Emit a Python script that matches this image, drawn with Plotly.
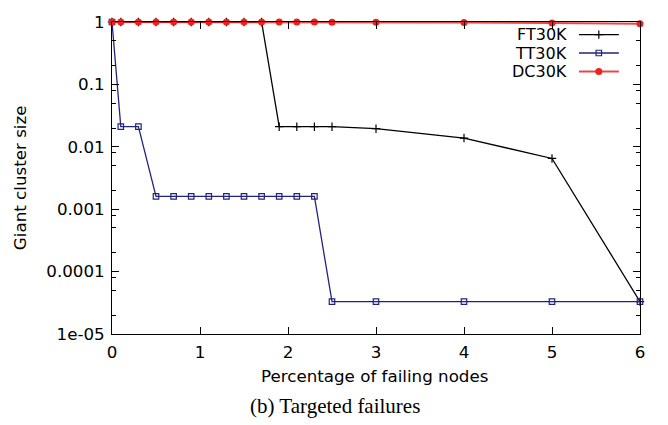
import plotly.graph_objects as go

# Percentage of failing nodes (targeted removal)
x_ft = [0, 0.1, 0.3, 0.5, 0.7, 0.9, 1.1, 1.3, 1.5, 1.7, 1.9, 2.1, 2.3, 2.5, 3, 4, 5, 6]
ft30k = [1, 1, 1, 1, 1, 1, 1, 1, 1, 1, 0.021, 0.021, 0.021, 0.021, 0.0195, 0.0138, 0.0065, 3.3e-5]

x_tt = [0, 0.1, 0.3, 0.5, 0.7, 0.9, 1.1, 1.3, 1.5, 1.7, 1.9, 2.1, 2.3, 2.5, 3, 4, 5, 6]
tt30k = [1, 0.021, 0.021, 0.0016, 0.0016, 0.0016, 0.0016, 0.0016, 0.0016, 0.0016, 0.0016,
         0.0016, 0.0016, 3.3e-5, 3.3e-5, 3.3e-5, 3.3e-5, 3.3e-5]

x_dc = [0, 0.1, 0.3, 0.5, 0.7, 0.9, 1.1, 1.3, 1.5, 1.7, 1.9, 2.1, 2.3, 2.5, 3, 4, 5, 6]
dc30k = [1, 1, 1, 1, 1, 1, 1, 1, 1, 1, 1, 1, 1, 0.995, 0.99, 0.98, 0.96, 0.94]

y_tickvals = [1e-5, 1e-4, 1e-3, 1e-2, 1e-1, 1]
y_ticktext = ["1e-05", "0.0001", "0.001", "0.01", "0.1", "1"]
y_minorvals = [0.5, 0.2, 0.08, 0.05, 0.02, 0.008, 0.005, 0.002,
               0.0008, 0.0005, 0.0002, 8e-5, 5e-5, 2e-5]

series_names = ["FT30K", "TT30K", "DC30K"]

BLACK = "#000000"
NAVY = "#23237f"
RED = "#ee2020"
RED_LINE = "rgba(232,24,24,0.8)"
FONT = "DejaVu Sans"
FS = 16.7

styles = [
    dict(line=dict(color=BLACK, width=1.3),
         marker=dict(symbol="cross-thin", size=6, line=dict(color=BLACK, width=1.2))),
    dict(line=dict(color=NAVY, width=1.3),
         marker=dict(symbol="square-open", size=5.5, color=NAVY, line=dict(color=NAVY, width=1.2))),
    dict(line=dict(color=RED_LINE, width=2),
         marker=dict(symbol="circle", size=7, color=RED, line=dict(width=0))),
]

fig = go.Figure()
for xs, ys, st in zip([x_ft, x_tt, x_dc], [ft30k, tt30k, dc30k], styles):
    fig.add_trace(go.Scatter(x=xs, y=ys, mode="lines+markers", line=st["line"],
                             marker=st["marker"], cliponaxis=False, showlegend=False))

# gnuplot-style key: label on the left, sample on the right
key_rows = [0.9596, 0.9006, 0.8416]
for name, st, ky in zip(series_names, styles, key_rows):
    fig.add_trace(go.Scatter(x=[0.8845, 0.960], y=[ky, ky], mode="lines", line=st["line"],
                             xaxis="x2", yaxis="y2", showlegend=False, hoverinfo="skip"))
    fig.add_trace(go.Scatter(x=[0.922], y=[ky], mode="markers", marker=st["marker"],
                             xaxis="x2", yaxis="y2", showlegend=False, hoverinfo="skip"))
    fig.add_annotation(x=0.8655, y=ky, xref="paper", yref="paper", text=name,
                       showarrow=False, xanchor="right", yanchor="middle",
                       font=dict(family=FONT, size=16, color=BLACK))

fig.add_annotation(x=0.498, y=-0.1335, xref="paper", yref="paper",
                   text="Percentage of failing nodes", showarrow=False,
                   xanchor="center", yanchor="middle",
                   font=dict(family=FONT, size=FS, color=BLACK))
fig.add_annotation(x=-0.174, y=0.5, xref="paper", yref="paper",
                   text="Giant cluster size", showarrow=False, textangle=-90,
                   xanchor="center", yanchor="middle",
                   font=dict(family=FONT, size=FS, color=BLACK))
fig.add_annotation(x=0.422, y=-0.23, xref="paper", yref="paper",
                   text="(b) Targeted failures", showarrow=False,
                   xanchor="center", yanchor="middle",
                   font=dict(family="Liberation Serif", size=21, color=BLACK))

fig.update_layout(
    width=668, height=425,
    margin=dict(l=112, r=28, t=12, b=91),
    paper_bgcolor="white", plot_bgcolor="white",
    font=dict(family=FONT, size=FS, color=BLACK),
    xaxis=dict(range=[0, 6], tickmode="array", tickvals=[0, 1, 2, 3, 4, 5, 6],
               ticks="inside", ticklen=7, tickwidth=1, tickcolor=BLACK,
               showline=True, linecolor=BLACK, linewidth=1, mirror="ticks",
               showgrid=False, zeroline=False, ticklabelstandoff=3),
    yaxis=dict(type="log", range=[-5, 0], tickmode="array",
               tickvals=y_tickvals, ticktext=y_ticktext,
               ticks="inside", ticklen=7, tickwidth=1, tickcolor=BLACK,
               minor=dict(tickmode="array", tickvals=y_minorvals, ticks="inside",
                          ticklen=4, tickwidth=1, tickcolor=BLACK, showgrid=False),
               showline=True, linecolor=BLACK, linewidth=1, mirror="ticks",
               showgrid=False, zeroline=False, ticklabelstandoff=3),
    xaxis2=dict(domain=[0, 1], range=[0, 1], overlaying="x", visible=False),
    yaxis2=dict(domain=[0, 1], range=[0, 1], overlaying="y", visible=False),
)

fig.write_html("out.html")
